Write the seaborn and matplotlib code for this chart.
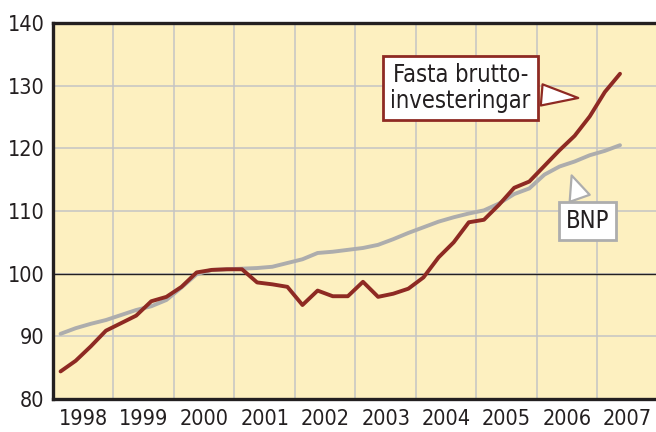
import numpy as np
import pandas as pd
import matplotlib
matplotlib.use('Agg')
import matplotlib.pyplot as plt
from matplotlib import font_manager
import seaborn as sns

# Quarterly index values, 1998 Q1 - 2007 Q2 (2000 = 100)
years = [1998, 1999, 2000, 2001, 2002, 2003, 2004, 2005, 2006, 2007]
investments = [84.4, 86.1, 88.4, 90.9,
               92.1, 93.3, 95.6, 96.3,
               97.9, 100.2, 100.6, 100.7,
               100.7, 98.6, 98.3, 97.9,
               95.0, 97.3, 96.4, 96.4,
               98.7, 96.3, 96.8, 97.6,
               99.4, 102.6, 105.0, 108.2,
               108.6, 111.0, 113.7, 114.7,
               117.2, 119.7, 122.0, 125.1,
               129.0, 131.9]
gdp = [90.4, 91.3, 92.0, 92.6,
       93.4, 94.2, 94.8, 95.8,
       97.8, 99.9, 100.6, 100.7,
       100.8, 100.9, 101.1, 101.7,
       102.3, 103.3, 103.5, 103.8,
       104.1, 104.6, 105.5, 106.5,
       107.4, 108.3, 109.0, 109.6,
       110.1, 111.2, 112.7, 113.6,
       115.8, 117.1, 117.9, 118.9,
       119.6, 120.5]

quarter_pos = [1998 + (k + 0.5) / 4 for k in range(len(gdp))]

df = pd.DataFrame({
    'tid': quarter_pos * 2,
    'index': investments + gdp,
    'serie': ['Fasta bruttoinvesteringar'] * len(investments) + ['BNP'] * len(gdp),
})

red = '#8E2A23'
grey = '#ADADAD'
dark = '#231F20'

sns.set_style('white')
# a narrow face if one is installed
names = {f.name for f in font_manager.fontManager.ttflist}
condensed = [f for f in font_manager.fontManager.ttflist
             if f.name == 'DejaVu Sans' and f.stretch == 'condensed']
if 'Liberation Sans Narrow' in names:
    plt.rcParams['font.family'] = ['Liberation Sans Narrow', 'DejaVu Sans']
    fs, fs_box = 17, 18
elif condensed:
    plt.rcParams['font.family'] = ['DejaVu Sans']
    plt.rcParams['font.stretch'] = 'condensed'
    fs, fs_box = 15.5, 17
else:
    plt.rcParams['font.family'] = ['DejaVu Sans']
    fs, fs_box = 14, 15

fig = plt.figure(figsize=(6.56, 4.32), dpi=100)
ax = fig.add_axes([53 / 656, 1 - 399 / 432, 1 - 53 / 656, (399 - 23) / 432])
ax.set_facecolor('#FDF0C0')

sns.lineplot(data=df, x='tid', y='index', hue='serie',
             palette={'Fasta bruttoinvesteringar': red, 'BNP': grey},
             hue_order=['BNP', 'Fasta bruttoinvesteringar'],
             linewidth=2.8, legend=False, ax=ax, zorder=3)

ax.set_xlim(1998, 2007.97)
ax.set_ylim(80, 140)

# grid at year boundaries, labels centred in each year
ax.set_xticks(years[1:])
ax.set_xticklabels([])
ax.set_xticks([y + 0.5 for y in years], minor=True)
ax.set_xticklabels([str(y) for y in years], minor=True)
ax.set_yticks([80, 90, 100, 110, 120, 130, 140])
ax.tick_params(axis='both', which='both', length=0, labelsize=fs, colors=dark)
ax.tick_params(axis='x', which='minor', pad=7)
ax.tick_params(axis='y', pad=6)
ax.grid(True, which='major', color='#C4C4C4', linewidth=1.1, zorder=1)
ax.axhline(100, color=dark, linewidth=1.0, zorder=2)

for side in ['left', 'bottom', 'top']:
    ax.spines[side].set_color(dark)
    ax.spines[side].set_linewidth(2.4)
ax.spines['right'].set_visible(False)

ax.set_xlabel('')
ax.set_ylabel('')

ax.annotate('Fasta brutto-\ninvesteringar', xy=(2006.73, 128.0), xytext=(2004.74, 129.6),
            ha='center', va='center', fontsize=fs_box, color=dark, linespacing=1.1,
            bbox=dict(boxstyle='square,pad=0.3', fc='white', ec=red, lw=2),
            arrowprops=dict(arrowstyle='wedge,tail_width=0.9', fc='white', ec=red, lw=1.6),
            zorder=5)
ax.annotate('BNP', xy=(2006.56, 116.1), xytext=(2006.84, 108.4),
            ha='center', va='center', fontsize=fs_box, color=dark,
            bbox=dict(boxstyle='square,pad=0.3', fc='white', ec=grey, lw=2),
            arrowprops=dict(arrowstyle='wedge,tail_width=0.9', fc='white', ec=grey, lw=1.6),
            zorder=5)

fig.savefig('out.png', dpi=100)
